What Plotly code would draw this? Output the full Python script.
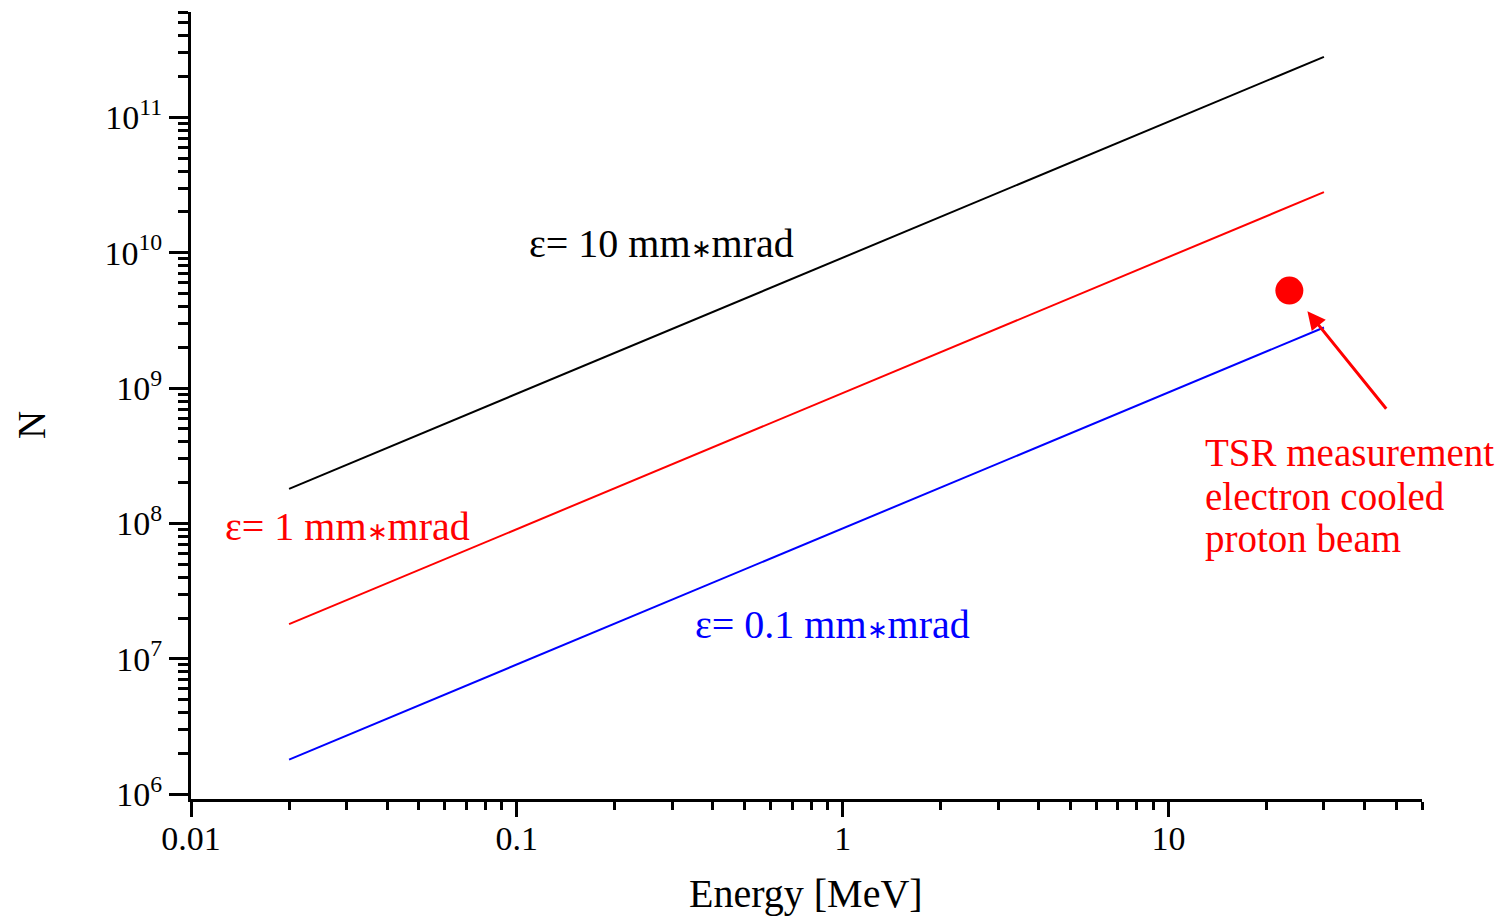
import math
import plotly.graph_objects as go

# ---- data ----
energy = [0.02, 30]                 # MeV
n_eps10 = [1.8e8, 2.8e11]           # ε = 10 mm*mrad
n_eps1 = [1.8e7, 2.8e10]            # ε = 1 mm*mrad
n_eps01 = [1.8e6, 2.8e9]            # ε = 0.1 mm*mrad
tsr_energy = [23.5]
tsr_n = [5.25e9]

x_tickvals = [0.01, 0.1, 1, 10]
x_ticktext = ["0.01", "0.1", "1", "10"]
y_tickvals = [1e6, 1e7, 1e8, 1e9, 1e10, 1e11]
y_ticktext = ["10<sup>6</sup>", "10<sup>7</sup>", "10<sup>8</sup>",
              "10<sup>9</sup>", "10<sup>10</sup>", "10<sup>11</sup>"]

FONT = "Liberation Serif"
STAR = '<span style="font-size:25px">∗</span>'

fig = go.Figure()
fig.add_trace(go.Scatter(x=energy, y=n_eps10, mode="lines",
                         line=dict(color="black", width=2), showlegend=False))
fig.add_trace(go.Scatter(x=energy, y=n_eps1, mode="lines",
                         line=dict(color="red", width=2), showlegend=False))
fig.add_trace(go.Scatter(x=energy, y=n_eps01, mode="lines",
                         line=dict(color="blue", width=2), showlegend=False))
fig.add_trace(go.Scatter(x=tsr_energy, y=tsr_n, mode="markers",
                         marker=dict(color="red", size=28, symbol="circle"),
                         showlegend=False))

L, R, T, B = 191, 84, 12, 121
W, H = 1506, 920
pw, ph = W - L - R, H - T - B

def px(xp):
    return (xp - L) / pw

def py(yp):
    return (H - B - yp) / ph

ann = [
    dict(text="ε= 10 mm" + STAR + "mrad", x=px(661), y=py(243), color="black"),
    dict(text="ε= 1 mm" + STAR + "mrad", x=px(347), y=py(527), color="red"),
    dict(text="ε= 0.1 mm" + STAR + "mrad", x=px(832), y=py(624), color="blue"),
]
for a in ann:
    fig.add_annotation(text=a["text"], x=a["x"], y=a["y"], xref="paper", yref="paper",
                       showarrow=False, xanchor="center", yanchor="middle",
                       font=dict(family=FONT, size=40, color=a["color"]))

for line, ypix in [("TSR measurement", 453), ("electron cooled", 496), ("proton beam", 539)]:
    fig.add_annotation(text=line, x=px(1203), y=py(ypix), xref="paper", yref="paper",
                       showarrow=False, xanchor="left", yanchor="middle", align="left",
                       font=dict(family=FONT, size=39, color="red"))

fig.add_annotation(x=math.log10(26.7), y=math.log10(3.69e9), xref="x", yref="y",
                   ax=80, ay=99, showarrow=True, arrowhead=2, arrowsize=1.2,
                   arrowwidth=3, arrowcolor="red", text="")

# axis titles
fig.add_annotation(text="Energy [MeV]", x=px(806), y=py(893), xref="paper", yref="paper",
                   showarrow=False, xanchor="center", yanchor="middle",
                   font=dict(family=FONT, size=40, color="black"))
fig.add_annotation(text="N", x=px(31), y=py(425), xref="paper", yref="paper",
                   showarrow=False, xanchor="center", yanchor="middle", textangle=-90,
                   font=dict(family=FONT, size=39, color="black"))

axis_common = dict(showline=True, linecolor="black", linewidth=3,
                   ticks="outside", tickcolor="black", tickwidth=3,
                   showgrid=False, zeroline=False, mirror=False, automargin=False,
                   tickfont=dict(family=FONT, size=34, color="black"))

fig.update_xaxes(type="log", range=[-2, math.log10(60)],
                 tickmode="array", tickvals=x_tickvals, ticktext=x_ticktext,
                 ticklen=15, ticklabelstandoff=-8,
                 minor=dict(ticks="outside", ticklen=8, tickwidth=3, tickcolor="black",
                            dtick="D1", showgrid=False),
                 **axis_common)
fig.update_yaxes(type="log", range=[math.log10(9.2e5), math.log10(6e11)],
                 tickmode="array", tickvals=y_tickvals, ticktext=y_ticktext,
                 ticklen=19,
                 minor=dict(ticks="outside", ticklen=10, tickwidth=3, tickcolor="black",
                            dtick="D1", showgrid=False),
                 **axis_common)

fig.update_layout(width=W, height=H, margin=dict(l=L, r=R, t=T, b=B),
                  paper_bgcolor="white", plot_bgcolor="white",
                  font=dict(family=FONT, color="black"))

fig.write_html("out.html")
